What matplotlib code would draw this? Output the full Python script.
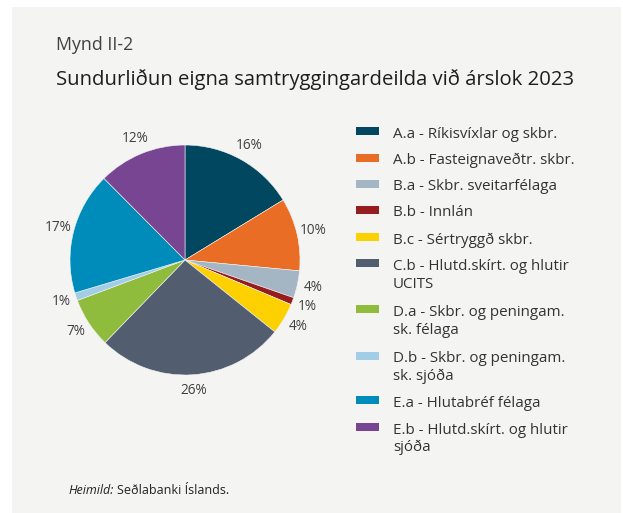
import matplotlib
matplotlib.use("Agg")
import matplotlib.pyplot as plt
from matplotlib.patches import Rectangle

plt.rcParams['font.family'] = ['Open Sans', 'DejaVu Sans']

categories = [
    "A.a - Ríkisvíxlar og skbr.",
    "A.b - Fasteignaveðtr. skbr.",
    "B.a - Skbr. sveitarfélaga",
    "B.b - Innlán",
    "B.c - Sértryggð skbr.",
    "C.b - Hlutd.skírt. og hlutir\nUCITS",
    "D.a - Skbr. og peningam.\nsk. félaga",
    "D.b - Skbr. og peningam.\nsk. sjóða",
    "E.a - Hlutabréf félaga",
    "E.b - Hlutd.skírt. og hlutir\nsjóða",
]
values = [16.2, 10.2, 3.8, 1.0, 4.4, 26.4, 7.0, 1.1, 17.1, 12.4]
colors = ["#00475f", "#e96d24", "#a4b6c3", "#951c1f", "#fdd000",
          "#525d6f", "#8fbc3c", "#a2cde6", "#008cbb", "#784593"]

W, H = 623, 513
fig = plt.figure(figsize=(W / 100, H / 100), dpi=100)
fig.patch.set_facecolor("white")
panel_color = "#f4f4f3"
fig.add_artist(Rectangle((12 / W, 0), 609 / W, 1 - 7 / H,
                         transform=fig.transFigure, facecolor=panel_color,
                         edgecolor="none", zorder=0))

fig.text(56 / W, 1 - 50 / H, "Mynd II-2", fontsize=12.8, color="#404040",
         va="baseline", ha="left")
fig.text(56 / W, 1 - 85 / H, "Sundurliðun eigna samtryggingardeilda við árslok 2023",
         fontsize=14.6, color="#1e1e1e", va="baseline", ha="left")

# Pie axes
r_px = 115
cx, cy = 185, 260
half = 1.3 * r_px
ax = fig.add_axes([(cx - half) / W, (H - cy - half) / H, 2 * half / W, 2 * half / H])
ax.set_facecolor("none")
total = sum(values)
wedges, texts, autotexts = ax.pie(
    values, colors=colors, startangle=90, counterclock=False,
    autopct=lambda p: f"{round(p * total / 100):.0f}%", pctdistance=1.14,
    wedgeprops=dict(edgecolor=panel_color, linewidth=0.4),
    textprops=dict(fontsize=9.8, color="#404040"))
ax.set_xlim(-1.3, 1.3)
ax.set_ylim(-1.3, 1.3)
ax.set_aspect("equal")
ax.axis("off")

# Legend (manual); y = baseline of first line in px
leg_base = [138, 164.5, 190.5, 216.5, 243.5, 270, 316, 362.5, 407, 433.5]
for lab, col, yb in zip(categories, colors, leg_base):
    fig.add_artist(Rectangle((356 / W, 1 - (yb - 3) / H), 23 / W, 8 / H,
                             transform=fig.transFigure, facecolor=col,
                             edgecolor="none"))
    lines = lab.split("\n")
    for i, ln in enumerate(lines):
        fig.text(393 / W, 1 - (yb + i * 17.5) / H, ln, fontsize=10.9,
                 color="#333333", va="baseline", ha="left")

t1 = fig.text(68 / W, 1 - 494 / H, "Heimild:", fontsize=9, style="italic",
              color="#222222", va="baseline", ha="left")
fig.text(0, 0, "", fontsize=1)
ax_ann = fig.add_artist(
    matplotlib.text.Annotation("Seðlabanki Íslands.", xy=(1, 0), xycoords=t1,
                               xytext=(2.5, 0), textcoords="offset points",
                               fontsize=9, color="#222222", va="bottom", ha="left"))

fig.savefig("out.png", dpi=100, facecolor=fig.get_facecolor())
